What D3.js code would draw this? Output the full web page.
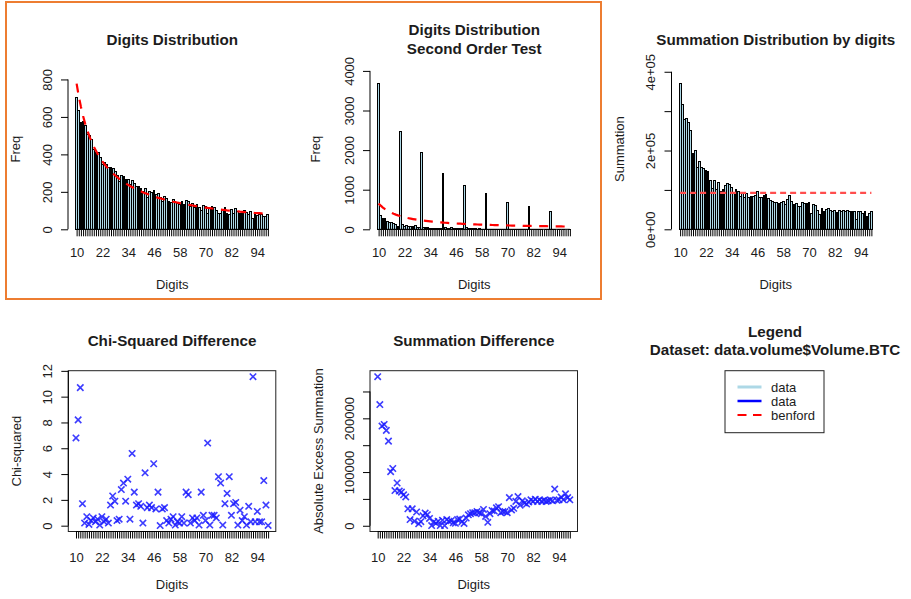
<!DOCTYPE html>
<html>
<head>
<meta charset="utf-8">
<script src="https://cdn.jsdelivr.net/npm/d3@7"></script>
<style>
  html, body { margin: 0; padding: 0; background: #fff; }
  svg { display: block; }
  text { font-family: "Liberation Sans", Arial, Helvetica, sans-serif; fill: #1c1c1c; }
</style>
</head>
<body>
<svg id="fig" width="911" height="599"></svg>
<script>
// ---- data: first-two-digit analysis of data.volume$Volume.BTC ----
const digits = d3.range(10, 100);

const firstOrderFreq = [
  705, 634, 570, 573, 552, 508, 502, 481, 425, 408,
  412, 384, 347, 357, 346, 328, 330, 323, 310, 288,
  256, 286, 280, 265, 266, 241, 259, 242, 230, 226,
  219, 203, 220, 172, 200, 195, 205, 187, 189, 168,
  147, 174, 164, 147, 141, 157, 142, 136, 135, 147,
  130, 152, 149, 124, 136, 118, 132, 119, 101, 127,
  123, 87, 111, 120, 119, 100, 87, 86, 106, 116,
  85, 80, 108, 85, 110, 94, 83, 87, 100, 89,
  78, 94, 56, 82, 76, 81, 80, 67, 71, 80
];

const benfordFreq = [
  778, 710, 654, 605, 563, 527, 495, 467, 441, 419,
  398, 380, 363, 347, 333, 320, 308, 297, 287, 277,
  268, 259, 251, 244, 237, 230, 224, 218, 212, 207,
  202, 197, 192, 188, 183, 179, 176, 172, 168, 165,
  162, 159, 156, 153, 150, 147, 145, 142, 140, 137,
  135, 133, 131, 129, 127, 125, 123, 121, 119, 117,
  116, 114, 113, 111, 110, 108, 107, 105, 104, 103,
  101, 100, 99, 98, 97, 96, 94, 93, 92, 91,
  90, 89, 88, 87, 86, 86, 85, 84, 83, 82
];

const secondOrderFreq = [
  3680, 340, 280, 280, 205, 175, 170, 140, 125, 60,
  2462, 110, 70, 90, 80, 65, 75, 105, 45, 40,
  1933, 40, 35, 38, 30, 32, 28, 30, 25, 27,
  1412, 35, 25, 30, 40, 20, 25, 15, 20, 18,
  1109, 45, 10, 12, 8, 10, 6, 8, 5, 7,
  907, 5, 4, 3, 5, 2, 4, 3, 2, 3,
  681, 3, 2, 2, 1, 2, 1, 2, 1, 1,
  571, 2, 1, 1, 1, 1, 1, 0, 1, 1,
  445, 1, 1, 0, 1, 0, 1, 0, 0, 1
];

const benfordFreqSecond = [
  654, 597, 549, 509, 473, 443, 416, 392, 371, 352,
  335, 319, 305, 292, 280, 269, 259, 250, 241, 233,
  225, 218, 211, 205, 199, 193, 188, 183, 178, 174,
  169, 165, 161, 158, 154, 151, 148, 144, 141, 139,
  136, 133, 131, 128, 126, 124, 121, 119, 117, 115,
  113, 112, 110, 108, 106, 105, 103, 102, 100, 99,
  97, 96, 95, 93, 92, 91, 90, 89, 87, 86,
  85, 84, 83, 82, 81, 80, 79, 79, 78, 77,
  76, 75, 74, 73, 73, 72, 71, 70, 70, 69
];

const summation = [
  370000, 318000, 278000, 281000, 270000, 250000, 193000, 199000, 158000, 172000,
  157000, 155000, 150000, 146000, 124000, 104000, 124000, 101000, 118000, 96000,
  100000, 111000, 116000, 113000, 106000, 92000, 100000, 97000, 84000, 92000,
  82000, 92000, 81000, 84000, 83000, 87000, 97000, 81000, 80000, 85000,
  88000, 78000, 72000, 70000, 68000, 68000, 66000, 68000, 70000, 62000,
  75000, 86000, 70000, 64000, 65000, 59000, 57000, 68000, 66000, 66000,
  68000, 40000, 63000, 60000, 47000, 38000, 54000, 46000, 50000, 52000,
  48000, 44000, 47000, 43000, 47000, 44000, 47000, 45000, 47000, 46000,
  44000, 46000, 24000, 45000, 44000, 39000, 44000, 33000, 40000, 44000
];
const benfordSummation = 92400;

const chiSquared = [
  6.8, 8.2, 10.7, 1.7, 0.2, 0.7, 0.1, 0.4, 0.6, 0.3,
  0.5, 0.05, 0.7, 0.3, 0.5, 0.2, 1.6, 2.3, 1.9, 0.4,
  0.5, 2.8, 3.3, 1.9, 3.6, 0.5, 5.6, 2.6, 1.6, 1.7,
  1.5, 0.2, 4.1, 1.4, 1.6, 1.4, 4.8, 1.3, 2.6, 0.01,
  1.3, 1.4, 0.4, 0.2, 0.5, 0.7, 0.05, 0.3, 0.2, 0.7,
  0.2, 2.6, 2.4, 0.2, 0.6, 0.4, 0.6, 0.05, 2.6, 0.8,
  0.4, 6.4, 0.05, 0.8, 0.8, 0.6, 3.8, 3.3, 0.05, 1.7,
  2.5, 3.8, 0.8, 1.7, 1.8, 0.05, 1.2, 0.4, 0.7, 0.05,
  1.5, 0.3, 11.55, 0.3, 1.1, 0.3, 0.3, 3.5, 1.6, 0.02
];

const excessSummation = [
  277600, 225600, 185600, 188600, 177600, 157600, 100600, 106600, 65600, 79600,
  64600, 62600, 57600, 53600, 31600, 11600, 31600, 8600, 25600, 3600,
  7600, 18600, 23600, 20600, 13600, 400, 7600, 4600, 8400, 400,
  10400, 400, 11400, 8400, 9400, 5400, 4600, 11400, 12400, 7400,
  4400, 14400, 20400, 22400, 24400, 24400, 26400, 24400, 22400, 30400,
  17400, 6400, 22400, 28400, 27400, 33400, 35400, 24400, 26400, 26400,
  24400, 52400, 29400, 32400, 45400, 54400, 38400, 46400, 42400, 40400,
  44400, 48400, 45400, 49400, 45400, 48400, 45400, 47400, 45400, 46400,
  48400, 46400, 68400, 47400, 48400, 53400, 48400, 59400, 52400, 48400
];

// axis ticks
const freqTicks = [0, 200, 400, 600, 800];
const freqTicksSecond = [0, 1000, 2000, 3000, 4000];
const summationTicks = [0, 100000, 200000, 300000, 400000];
const summationTickLabels = ["0e+00", "", "2e+05", "", "4e+05"];
const chiTicks = [0, 2, 4, 6, 8, 10, 12];
const excessTicks = [0, 50000, 100000, 150000, 200000, 250000];
const excessTickLabels = ["0", "", "100000", "", "200000", ""];
const digitLabelEvery = 12;

// ---- layout ----
const svg = d3.select("#fig");
const colLeft = [68, 370, 671.5];
const plotW = 208.5;
const topRow = { top: 69, bottom: 229.3 };
const botRow = { top: 370.7, bottom: 531.5 };
const AXIS_FS = 13, TITLE_FS = 15.2;

// frame around the two frequency panels
svg.append("rect")
  .attr("x", 6).attr("y", 2).attr("width", 595).attr("height", 297)
  .attr("fill", "none").attr("stroke", "#ed7d31").attr("stroke-width", 2);

function title(lines, cx, baselines) {
  lines.forEach((t, i) => {
    svg.append("text").attr("x", cx).attr("y", baselines[i])
      .attr("text-anchor", "middle").attr("font-size", TITLE_FS)
      .attr("font-weight", "bold").attr("fill", "#111").text(t);
  });
}

function xLabel(t, cx, y) {
  svg.append("text").attr("x", cx).attr("y", y).attr("text-anchor", "middle")
    .attr("font-size", AXIS_FS).text(t);
}

function yLabel(t, x, cy) {
  svg.append("text").attr("transform", `translate(${x},${cy}) rotate(-90)`)
    .attr("text-anchor", "middle").attr("font-size", AXIS_FS).text(t);
}

// bottom axis with a tick at every digit and labels every 12th digit
function digitAxis(g, scale, positions, y, labelBaseline) {
  const labelOf = new Map(positions.map((p, i) => [p, (i % digitLabelEvery === 0) ? String(digits[i]) : ""]));
  const ax = g.append("g").attr("transform", `translate(0,${y})`)
    .call(d3.axisBottom(scale).tickValues(positions).tickSize(7).tickSizeOuter(0)
      .tickFormat(p => labelOf.get(p)));
  ax.select(".domain").remove();
  ax.selectAll(".tick line").attr("stroke", "#000").attr("stroke-width", 1);
  ax.selectAll(".tick text").attr("y", labelBaseline).attr("dy", 0)
    .attr("font-size", AXIS_FS).attr("font-family", null).attr("fill", "#1c1c1c");
  ax.append("line")
    .attr("x1", scale(positions[0])).attr("x2", scale(positions[positions.length - 1]))
    .attr("stroke", "#000");
}

// left axis with labels turned parallel to the axis
function valueAxis(g, scale, ticks, labels, x) {
  const labelOf = new Map(ticks.map((t, i) => [t, labels[i]]));
  const ax = g.append("g").attr("transform", `translate(${x},0)`)
    .call(d3.axisLeft(scale).tickValues(ticks).tickSize(7).tickSizeOuter(0)
      .tickFormat(t => labelOf.get(t)));
  ax.select(".domain").remove();
  ax.selectAll(".tick line").attr("stroke", "#000");
  ax.selectAll(".tick text")
    .attr("x", null).attr("dy", 0).attr("text-anchor", "middle")
    .attr("transform", "translate(-16.5,0) rotate(-90)")
    .attr("font-size", AXIS_FS).attr("font-family", null).attr("fill", "#1c1c1c");
  ax.append("line").attr("y1", scale(ticks[0])).attr("y2", scale(ticks[ticks.length - 1]))
    .attr("stroke", "#000");
}

// barplot panel laid out like R's barplot(): width 1, space 0.2, 4% x padding
function barPanel(cfg) {
  const left = cfg.left, right = cfg.left + plotW;
  const n = cfg.values.length;
  const u0 = 0.2, u1 = 1.2 * n, pad = (u1 - u0) * 0.04;
  const x = d3.scaleLinear().domain([u0 - pad, u1 + pad]).range([left, right]);
  const ymax = d3.max(cfg.values.concat(cfg.lineValues)) * 1.1;
  const y = d3.scaleLinear().domain([0, ymax]).range([topRow.bottom, topRow.top]);
  const g = svg.append("g");

  g.append("g").selectAll("rect").data(cfg.values).join("rect")
    .attr("x", (v, i) => x(0.2 + 1.2 * i))
    .attr("width", x(1) - x(0))
    .attr("y", v => y(v))
    .attr("height", v => y(0) - y(v))
    .attr("fill", "#add8e6").attr("stroke", "#000").attr("stroke-width", 1)
    .attr("shape-rendering", "crispEdges");

  const centers = cfg.values.map((v, i) => 0.7 + 1.2 * i);
  digitAxis(g, x, centers, topRow.bottom, 27.7);
  valueAxis(g, y, cfg.ticks, cfg.tickLabels, left);

  const line = d3.line().x((v, i) => x(centers[i])).y(v => y(v));
  g.append("path").datum(cfg.lineValues)
    .attr("d", line).attr("fill", "none")
    .attr("stroke", cfg.lineColor).attr("stroke-width", 2.2)
    .attr("stroke-dasharray", cfg.dash);

  title(cfg.title, (left + right) / 2, cfg.titleY);
  xLabel("Digits", (left + right) / 2, 288.5);
  yLabel(cfg.ylab, cfg.ylabX, (topRow.top + topRow.bottom) / 2);
}

// scatter panel with pch = 4 crosses, framed box, R-style 4% padding
function crossPanel(cfg) {
  const left = cfg.left, right = cfg.left + 207.5;
  const xPad = (99 - 10) * 0.04;
  const x = d3.scaleLinear().domain([10 - xPad, 99 + xPad]).range([left, right]);
  const [lo, hi] = d3.extent(cfg.values);
  const yPad = (hi - lo) * 0.04;
  const y = d3.scaleLinear().domain([lo - yPad, hi + yPad]).range([botRow.bottom, botRow.top]);
  const g = svg.append("g");

  g.append("rect").attr("x", left).attr("y", botRow.top)
    .attr("width", right - left).attr("height", botRow.bottom - botRow.top)
    .attr("fill", "none").attr("stroke", "#222").attr("stroke-width", 1);

  digitAxis(g, x, digits, botRow.bottom, 30);
  valueAxis(g, y, cfg.ticks, cfg.tickLabels, left);

  const s = 3.2;
  g.append("g").selectAll("path").data(cfg.values).join("path")
    .attr("d", (v, i) => {
      const cx = x(digits[i]), cy = y(v);
      return `M${cx - s},${cy - s}L${cx + s},${cy + s}M${cx - s},${cy + s}L${cx + s},${cy - s}`;
    })
    .attr("fill", "none").attr("stroke", "#1a1aff").attr("stroke-opacity", 0.85)
    .attr("stroke-width", 1.6);

  title(cfg.title, (left + right) / 2, [345.5]);
  xLabel("Digits", (left + right) / 2, 588.5);
  yLabel(cfg.ylab, cfg.ylabX, (botRow.top + botRow.bottom) / 2);
}

barPanel({
  left: colLeft[0], values: firstOrderFreq, lineValues: benfordFreq,
  ticks: freqTicks, tickLabels: freqTicks.map(String),
  lineColor: "#ff0000", dash: "9,7.5",
  title: ["Digits Distribution"], titleY: [44.5],
  ylab: "Freq", ylabX: 20
});

barPanel({
  left: colLeft[1], values: secondOrderFreq, lineValues: benfordFreqSecond,
  ticks: freqTicksSecond, tickLabels: freqTicksSecond.map(String),
  lineColor: "#ff0000", dash: "9,7.5",
  title: ["Digits Distribution", "Second Order Test"], titleY: [34.7, 53.5],
  ylab: "Freq", ylabX: 320
});

barPanel({
  left: colLeft[2], values: summation, lineValues: summation.map(() => benfordSummation),
  ticks: summationTicks, tickLabels: summationTickLabels,
  lineColor: "#ff4d4d", dash: "6,4",
  title: ["Summation Distribution by digits"], titleY: [44.5],
  ylab: "Summation", ylabX: 624
});

crossPanel({
  left: 68.3, values: chiSquared, ticks: chiTicks, tickLabels: chiTicks.map(String),
  title: ["Chi-Squared Difference"], ylab: "Chi-squared", ylabX: 20.5
});

crossPanel({
  left: 370, values: excessSummation, ticks: excessTicks, tickLabels: excessTickLabels,
  title: ["Summation Difference"], ylab: "Absolute Excess Summation", ylabX: 323
});

// ---- legend panel ----
title(["Legend", "Dataset: data.volume$Volume.BTC"], 775, [336.7, 354.7]);
const lg = svg.append("g");
lg.append("rect").attr("x", 725).attr("y", 370.7).attr("width", 99).attr("height", 62)
  .attr("fill", "none").attr("stroke", "#222");
const legendItems = [
  { label: "data", color: "#add8e6", width: 3, dash: null },
  { label: "data", color: "#0000ff", width: 2.5, dash: null },
  { label: "benford", color: "#ff0000", width: 2, dash: "9,6.5" }
];
const rowY = [387, 401, 415];
legendItems.forEach((it, i) => {
  lg.append("line").attr("x1", 737.5).attr("x2", 761.5).attr("y1", rowY[i]).attr("y2", rowY[i])
    .attr("stroke", it.color).attr("stroke-width", it.width).attr("stroke-dasharray", it.dash);
  lg.append("text").attr("x", 771).attr("y", rowY[i]).attr("dy", "0.35em")
    .attr("font-size", AXIS_FS).text(it.label);
});
</script>
</body>
</html>
